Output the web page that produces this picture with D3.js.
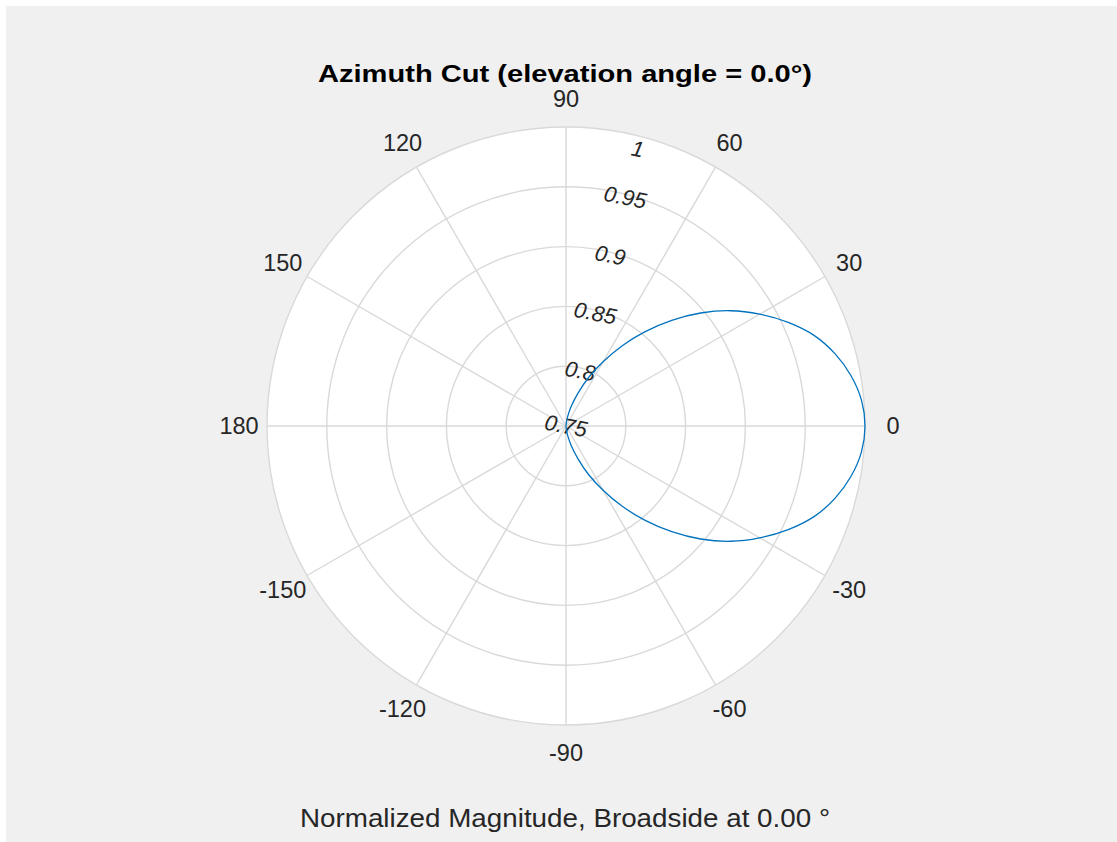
<!DOCTYPE html>
<html>
<head>
<meta charset="utf-8">
<script src="https://cdn.jsdelivr.net/npm/d3@7"></script>
<style>
  html, body { margin: 0; padding: 0; background: #ffffff; }
  svg { display: block; }
</style>
</head>
<body>
<svg id="chart" width="1117" height="842"></svg>
<script>
// ---- data ----
const titleText = "Azimuth Cut (elevation angle = 0.0°)";
const xLabelText = "Normalized Magnitude, Broadside at 0.00 °";
const angleTicks = [0, 30, 60, 90, 120, 150, 180, -150, -120, -90, -60, -30];
const angleTickLabels = ["0", "30", "60", "90", "120", "150", "180", "-150", "-120", "-90", "-60", "-30"];
const radiusTicks = [0.75, 0.8, 0.85, 0.9, 0.95, 1];
const radiusTickLabels = ["0.75", "0.8", "0.85", "0.9", "0.95", "1"];
const rLimits = [0.75, 1];
// azimuth angles (deg) and normalized magnitude
const azimuth = [-180, -90, -85, -80, -75, -70, -65, -60, -55, -50, -45, -40, -35, -30, -25, -20, -15, -10, -5, 0,
                 5, 10, 15, 20, 25, 30, 35, 40, 45, 50, 55, 60, 65, 70, 75, 80, 85, 90, 180];
const magnitude = [0.75, 0.75, 0.752, 0.758, 0.767, 0.779, 0.795, 0.812, 0.832, 0.853, 0.875, 0.897, 0.918, 0.937, 0.955, 0.971, 0.983, 0.992, 0.998, 1.0,
                   0.998, 0.992, 0.983, 0.971, 0.955, 0.937, 0.918, 0.897, 0.875, 0.853, 0.832, 0.812, 0.795, 0.779, 0.767, 0.758, 0.752, 0.75, 0.75];

// ---- layout ----
const W = 1117, H = 842;
const cx = 566, cy = 426, R = 299;
const font = "Liberation Sans, Arial, Helvetica, sans-serif";
const svg = d3.select("#chart");

svg.append("rect").attr("x", 6).attr("y", 6).attr("width", W - 6).attr("height", H - 6).attr("fill", "#f0f0f0");

const r = d3.scaleLinear().domain(rLimits).range([0, R]).clamp(true);
const toRad = d => d * Math.PI / 180;
const px = (deg, rv) => cx + r(rv) * Math.cos(toRad(deg));
const py = (deg, rv) => cy - r(rv) * Math.sin(toRad(deg));

const g = svg.append("g");
g.append("circle").attr("cx", cx).attr("cy", cy).attr("r", R).attr("fill", "#ffffff").attr("stroke", "none");

const gridColor = "#d9d9d9";
// rings
g.selectAll("circle.ring").data(radiusTicks.slice(1)).join("circle")
  .attr("class", "ring").attr("cx", cx).attr("cy", cy).attr("r", d => r(d))
  .attr("fill", "none").attr("stroke", gridColor).attr("stroke-width", 1.4);
// spokes
g.selectAll("line.spoke").data(angleTicks).join("line")
  .attr("class", "spoke")
  .attr("x1", cx).attr("y1", cy)
  .attr("x2", d => px(d, rLimits[1])).attr("y2", d => py(d, rLimits[1]))
  .attr("stroke", gridColor).attr("stroke-width", 1.4);

// angle labels
g.selectAll("text.alab").data(angleTicks).join("text")
  .attr("class", "alab")
  .attr("x", d => cx + (R + 28) * Math.cos(toRad(d)))
  .attr("y", d => cy - (R + 28) * Math.sin(toRad(d)))
  .attr("text-anchor", "middle").attr("dominant-baseline", "central")
  .attr("font-family", font).attr("font-size", 23.5)
  .attr("fill", "#262626")
  .text((d, i) => angleTickLabels[i]);

// radius labels
const rLabAngle = 75.5;
g.selectAll("text.rlab").data(radiusTicks).join("text")
  .attr("class", "rlab")
  .attr("transform", d => {
    const rr = Math.max(0, Math.min(r(d) - 3, R - 13));
    const a = toRad(rLabAngle);
    return `translate(${cx + rr * Math.cos(a)},${cy - rr * Math.sin(a)}) rotate(11)`;
  })
  .attr("text-anchor", "middle").attr("dominant-baseline", "central")
  .attr("font-family", font).attr("font-size", 22)
  .attr("font-style", "italic")
  .attr("fill", "#262626")
  .text((d, i) => radiusTickLabels[i]);

// pattern curve
const pts = azimuth.map((a, i) => [a, magnitude[i]]);
const line = d3.lineRadial()
  .angle(d => toRad(90 - d[0]))
  .radius(d => r(d[1]))
  .curve(d3.curveCatmullRom);
g.append("path")
  .attr("transform", `translate(${cx},${cy})`)
  .attr("d", line(pts))
  .attr("fill", "none").attr("stroke", "#0072bd").attr("stroke-width", 1.3);

// title
svg.append("text").attr("x", 565).attr("y", 73)
  .attr("text-anchor", "middle").attr("dominant-baseline", "central")
  .attr("font-family", font).attr("font-size", 24.5)
  .attr("font-weight", "bold").attr("fill", "#000")
  .attr("textLength", 494).attr("lengthAdjust", "spacingAndGlyphs")
  .text(titleText);

// x label
svg.append("text").attr("x", 565).attr("y", 818)
  .attr("text-anchor", "middle").attr("dominant-baseline", "central")
  .attr("font-family", font).attr("font-size", 26)
  .attr("fill", "#262626")
  .attr("textLength", 530).attr("lengthAdjust", "spacingAndGlyphs")
  .text(xLabelText);
</script>
</body>
</html>
